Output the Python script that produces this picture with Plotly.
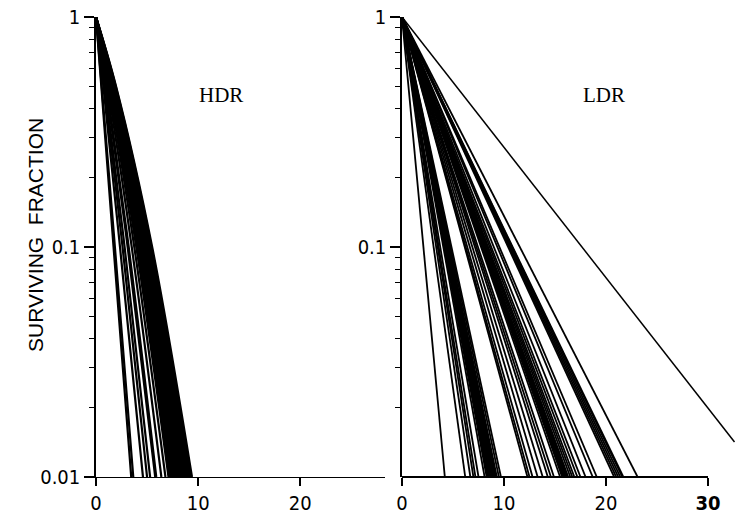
import plotly.graph_objects as go

# ---------------- data ----------------
# HDR: survival curves, doses (Gy) read at SF levels 1, 0.5, 0.1, 0.01
hdr_sf_levels = [1, 0.5, 0.1, 0.01]
hdr_d50 = [0.52, 0.56, 0.72, 0.81, 0.88, 0.99, 1.04, 1.14, 1.24, 1.31, 1.33, 1.35, 1.36,
           1.37, 1.40, 1.44, 1.45, 1.46, 1.50, 1.53, 1.56, 1.59, 1.61, 1.63, 1.66,
           1.69, 1.72, 1.75, 1.79, 1.84, 1.89, 1.93, 1.96]
hdr_d10 = [1.72, 1.85, 2.35, 2.6, 2.8, 3.1, 3.2, 3.5, 3.75, 3.95, 4.0, 4.05, 4.1,
           4.15, 4.22, 4.3, 4.35, 4.4, 4.48, 4.55, 4.62, 4.7, 4.75, 4.8, 4.88,
           4.95, 5.02, 5.1, 5.18, 5.25, 5.35, 5.43, 5.5]
hdr_d01 = [3.45, 3.65, 4.6, 5.0, 5.3, 5.8, 5.9, 6.4, 6.8, 7.1, 7.2, 7.3, 7.4,
           7.5, 7.6, 7.7, 7.8, 7.9, 8.0, 8.1, 8.2, 8.3, 8.4, 8.5, 8.6,
           8.7, 8.8, 8.9, 9.0, 9.1, 9.2, 9.3, 9.4]

# LDR: straight (exponential) lines from SF=1 at dose 0 to SF=0.01 at these doses
ldr_sf_levels = [1, 0.01]
ldr_d01 = [4.2, 6.2, 6.7, 7.0, 7.2, 7.5, 8.1, 8.3, 8.4, 8.5, 8.6, 8.7, 8.8, 8.9,
           9.0, 9.1, 9.2, 9.3, 9.5, 9.7, 12.3, 12.5, 12.8, 13.3, 13.8, 14.3, 14.6,
           14.9, 15.5, 15.7, 15.8, 15.9, 16.0, 16.1, 16.2, 16.3, 16.5, 16.7, 16.9,
           17.2, 17.5, 18.0, 18.7, 19.1, 20.8, 21.0, 21.2, 21.4, 21.6, 21.7, 23.1]
# the single shallow LDR line that runs past the axis end
ldr_long_x = [0, 32.6]
ldr_long_y = [1, 0.0142]

x_ticks_left = [0, 10, 20]
x_ticks_right = [0, 10, 20, 30]
x_ticktext_right = ["0", "10", "20", "<b>30</b>"]
y_ticks_left = [0.01, 0.1, 1]
y_ticktext_left = ["0.01", "0.1", "1"]
y_ticks_right = [0.1, 1]
y_ticktext_right = ["0.1", "1"]
y_minor = [0.02, 0.03, 0.04, 0.05, 0.06, 0.07, 0.08, 0.09,
           0.2, 0.3, 0.4, 0.5, 0.6, 0.7, 0.8, 0.9]

# ---------------- figure ----------------
W, H = 739, 517
fig = go.Figure()

for a, b, c in zip(hdr_d50, hdr_d10, hdr_d01):
    fig.add_trace(go.Scatter(x=[0, a, b, c], y=hdr_sf_levels, mode="lines",
                             line=dict(color="black", width=2.2, shape="spline", smoothing=1.0),
                             xaxis="x", yaxis="y", showlegend=False, hoverinfo="skip"))

for d in ldr_d01:
    fig.add_trace(go.Scatter(x=[0, d], y=ldr_sf_levels, mode="lines",
                             line=dict(color="black", width=1.8),
                             xaxis="x2", yaxis="y2", showlegend=False, hoverinfo="skip"))
fig.add_trace(go.Scatter(x=ldr_long_x, y=ldr_long_y, mode="lines",
                         line=dict(color="black", width=1.5),
                         xaxis="x2", yaxis="y2", showlegend=False, hoverinfo="skip"))


def px_x(p):
    return p / W


def px_y(p):
    return (H - p) / H


y_dom = [px_y(477), px_y(17)]
tick_font = dict(family="Liberation Sans Narrow, DejaVu Sans Condensed, Liberation Sans, sans-serif",
                 size=20, color="black")

common_y = dict(type="log", range=[-2, 0], domain=y_dom, showline=True, linecolor="black",
                linewidth=1.5, ticks="outside", ticklen=10, tickwidth=1.5, tickcolor="black",
                showgrid=False, zeroline=False, tickfont=tick_font, automargin=False,
                ticklabeloverflow="allow")
minor_y = dict(type="log", range=[-2, 0], side="left", showline=False, ticks="outside",
               ticklen=6, tickwidth=1.3, tickcolor="black", tickvals=y_minor,
               showticklabels=False, showgrid=False, zeroline=False, automargin=False)

right_end_px = 737.6
right_range_end = (right_end_px - 402) / 10.2

fig.update_layout(
    width=W, height=H,
    margin=dict(l=0, r=0, t=0, b=0, autoexpand=False),
    paper_bgcolor="white", plot_bgcolor="white",
    xaxis=dict(domain=[px_x(96), px_x(385)], range=[0, 28.3], anchor="y",
               showline=True, linecolor="black", linewidth=1.2,
               ticks="outside", ticklen=8, tickwidth=1.5, tickcolor="black",
               tickvals=x_ticks_left, ticktext=[str(v) for v in x_ticks_left],
               showgrid=False, zeroline=False, tickfont=tick_font, automargin=False,
               ticklabeloverflow="allow"),
    yaxis=dict(anchor="x", tickvals=y_ticks_left, ticktext=y_ticktext_left, **common_y),
    yaxis3=dict(overlaying="y", anchor="x", **minor_y),
    xaxis2=dict(domain=[px_x(402), px_x(right_end_px)], range=[0, right_range_end], anchor="y2",
                showline=False, ticks="outside", ticklen=8, tickwidth=1.5, tickcolor="black",
                tickvals=x_ticks_right, ticktext=x_ticktext_right,
                showgrid=False, zeroline=False, tickfont=tick_font, automargin=False,
                ticklabeloverflow="allow"),
    yaxis2=dict(anchor="x2", tickvals=y_ticks_right, ticktext=y_ticktext_right, **common_y),
    yaxis4=dict(overlaying="y2", anchor="x2", **minor_y),
    shapes=[dict(type="line", xref="x2", yref="paper", x0=-1.5, x1=30,
                 y0=y_dom[0], y1=y_dom[0], line=dict(color="black", width=2))],
    annotations=[
        dict(text="SURVIVING  FRACTION", x=px_x(35), y=px_y(235), xref="paper", yref="paper",
             xanchor="center", yanchor="middle", textangle=-90, showarrow=False,
             font=dict(family="Liberation Sans, Arial, sans-serif", size=21, color="black")),
        dict(text="HDR", x=px_x(221), y=px_y(95), xref="paper", yref="paper",
             xanchor="center", yanchor="middle", showarrow=False,
             font=dict(family="Liberation Serif, Times New Roman, serif", size=21, color="black")),
        dict(text="LDR", x=px_x(604), y=px_y(95), xref="paper", yref="paper",
             xanchor="center", yanchor="middle", showarrow=False,
             font=dict(family="Liberation Serif, Times New Roman, serif", size=21, color="black")),
    ],
)

# invisible anchor traces so the minor-tick overlay axes are drawn
fig.add_trace(go.Scatter(x=[0], y=[1], mode="markers", marker=dict(opacity=0),
                         xaxis="x", yaxis="y3", showlegend=False, hoverinfo="skip"))
fig.add_trace(go.Scatter(x=[0], y=[1], mode="markers", marker=dict(opacity=0),
                         xaxis="x2", yaxis="y4", showlegend=False, hoverinfo="skip"))

# remove the default page margin so the figure fills the 739x517 window exactly
fig.write_html("out.html",
               config={"displayModeBar": False},
               post_script="document.body.style.margin='0';document.body.style.overflow='hidden';")
